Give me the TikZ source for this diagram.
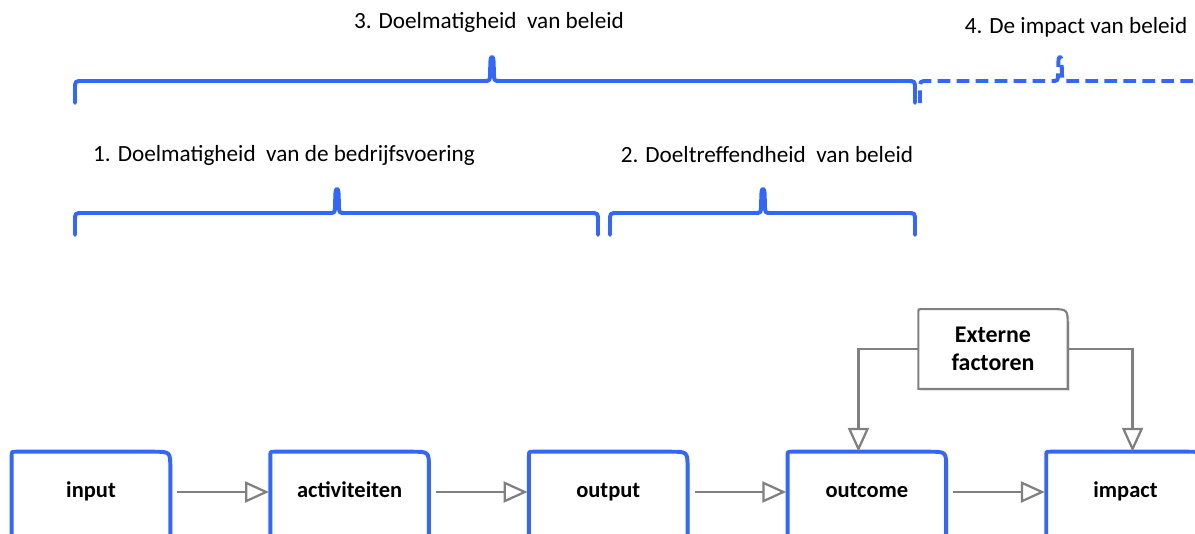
\documentclass[tikz,border=0pt]{standalone}
\usepackage{fontspec}
\setmainfont{Carlito}
\usetikzlibrary{arrows.meta,positioning,shadows,backgrounds}
\definecolor{braceblue}{RGB}{51,102,255}
\definecolor{linegray}{RGB}{128,128,128}

\tikzset{
	stage/.style={minimum width=3.95cm, minimum height=2cm, inner sep=0pt,
		text height=2ex, text depth=.25ex,
		font=\fontsize{16}{19}\selectfont\bfseries},
	stageline/.style={draw=braceblue, line width=2.8pt, fill=white, line join=round,
		drop shadow={opacity=0.2, shadow xshift=1.5pt, shadow yshift=-1.5pt}},
	extline/.style={draw=linegray, line width=1.5pt, fill=white,
		drop shadow={opacity=0.2, shadow xshift=1.5pt, shadow yshift=-1.5pt}},
	flow/.style={draw=linegray, line width=1.6pt,
		-{Triangle[open,length=17pt,width=15pt]}},
	bracebar/.style={draw=braceblue, line width=2.8pt, line cap=round, line join=round},
	label/.style={font=\fontsize{16.5}{19}\selectfont}
}

% horizontal brace: [options]{left x}{tip x}{right x}{line y}
\newcommand{\stagebrace}[5][]{
	\draw[bracebar,#1] (#2,#5+22) -- (#2,#5+8) .. controls (#2,#5) .. (#2+8,#5)
		-- (#3-8,#5) .. controls (#3-2,#5) .. (#3-2,#5-8) -- (#3-1.5,#5-21)
		.. controls (#3-1,#5-25) and (#3+1,#5-25) .. (#3+1.5,#5-21)
		-- (#3+2,#5-8) .. controls (#3+2,#5) .. (#3+8,#5)
		-- (#4-8,#5) .. controls (#4,#5) .. (#4,#5+8) -- (#4,#5+22);
}

\begin{document}
\begin{tikzpicture}[x=0.025cm, y=-0.025cm, node distance=2.5cm]
	\useasboundingbox (0,0) rectangle (1195,533);

	% labels and braces
	\node[label] (doel3) at (489,22) {3. Doelmatigheid\ \ van beleid};
	\node[label] (impact4) at (1076,27) {4. De impact van beleid};
	\node[label] (doel1) at (284,155) {1. Doelmatigheid\ \ van de bedrijfsvoering};
	\node[label] (doel2) at (767,155) {2. Doeltreffendheid\ \ van beleid};

	\stagebrace{75}{492}{915}{81}
	\stagebrace[dash pattern=on 9pt off 4.5pt, line cap=butt]{920}{1060}{1200}{81}
	\stagebrace{75}{337}{598}{213}
	\stagebrace{610}{763}{915}{213}

	% chain
	\node[stage] (input) at (91,492) {input};
	\node[stage, right=of input] (activ) {activiteiten};
	\node[stage, right=of activ] (output) {output};
	\node[stage, right=of output] (outcome) {outcome};
	\node[stage, right=of outcome] (impact) {impact};

	\node[minimum width=3.72cm, minimum height=1.98cm, inner sep=0pt, align=center,
		font=\fontsize{17}{20}\selectfont\bfseries] (ext) at (993,349) {Externe\\factoren};

	\begin{scope}[on background layer]
		\foreach \n in {input,activ,output,outcome,impact}
			\draw[stageline] ([yshift=-10pt]\n.south west) -- ([yshift=-3pt]\n.north west)
				.. controls (\n.north west) .. ([xshift=3pt]\n.north west)
				-- ([xshift=-12pt]\n.north east) .. controls (\n.north east) .. ([yshift=-12pt]\n.north east)
				-- ([yshift=-10pt]\n.south east) -- cycle;
		\draw[extline] (ext.south west) -- ([yshift=-2pt]ext.north west)
			.. controls (ext.north west) .. ([xshift=2pt]ext.north west)
			-- ([xshift=-12pt]ext.north east) .. controls (ext.north east) .. ([yshift=-12pt]ext.north east)
			-- (ext.south east) -- cycle;
	\end{scope}

	\draw[flow, shorten <=5pt, shorten >=1pt] (input) -- (activ);
	\draw[flow, shorten <=5pt, shorten >=1pt] (activ) -- (output);
	\draw[flow, shorten <=5pt, shorten >=1pt] (output) -- (outcome);
	\draw[flow, shorten <=5pt, shorten >=1pt] (outcome) -- (impact);

	\draw[flow] (ext.west) -| ([xshift=-6pt]outcome.north);
	\draw[flow] (ext.east) -| ([xshift=5pt]impact.north);
\end{tikzpicture}
\end{document}
